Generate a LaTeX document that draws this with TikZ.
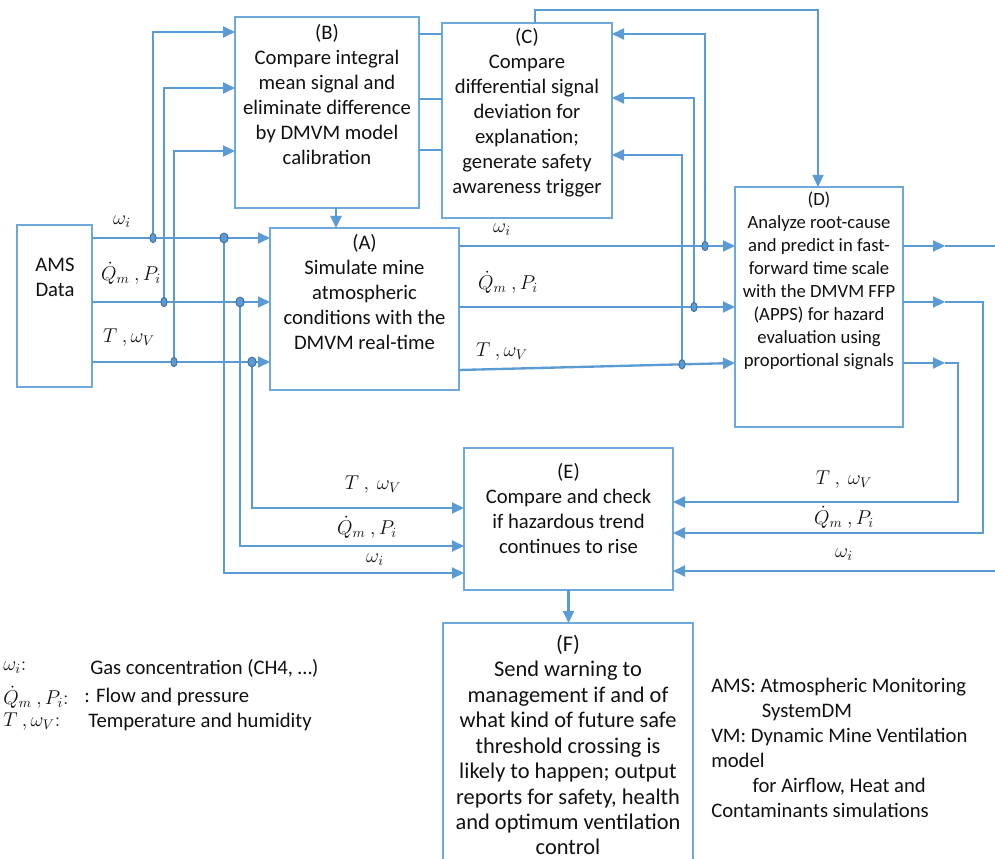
\RequirePackage{fix-cm}
\documentclass[tikz,border=0pt]{standalone}
\usepackage{fontspec}
\setmainfont{Carlito}
\usetikzlibrary{arrows.meta,calc}
\definecolor{ln}{HTML}{5B9BD5}
\definecolor{bx}{HTML}{6FA8DC}
\definecolor{dotc}{HTML}{41719C}
\definecolor{txt}{HTML}{111111}
\tikzset{
  box/.style={draw=bx, line width=0.8pt, inner sep=0pt, outer sep=0pt},
  conn/.style={draw=ln, line width=1.75pt},
  arr/.style={conn, -{Triangle[length=9pt,width=8.2pt]}},
  thinconn/.style={draw=ln, line width=0.8pt},
  btext/.style={align=center, inner sep=0pt, text=txt, font=\fontsize{15.5}{18.75}\selectfont},
  dtext/.style={align=center, inner sep=0pt, text=txt, font=\fontsize{14}{17.25}\selectfont},
  ftext/.style={align=center, inner sep=0pt, text=txt, font=\fontsize{16.8}{19.1}\selectfont},
  ltext/.style={inner sep=0pt, text=txt, font=\fontsize{15.5}{18.75}\selectfont},
  lbl/.style={inner sep=0pt, text=txt, font=\fontsize{15}{18}\selectfont},
  jdot/.style={draw=dotc, fill=ln, line width=0.7pt},
}
\begin{document}
\begin{tikzpicture}[x=0.75pt,y=-0.75pt]
\useasboundingbox (0,0) rectangle (995,859);
\clip (0,0) rectangle (995,859);

% ---------- boxes ----------
\node[box, minimum width=56.25pt, minimum height=121.5pt] (AMS) at (54.5,306) {};
\node[btext] (AMSt) at (55,277.5) {AMS\\Data};

\node[box, minimum width=138pt, minimum height=143.25pt] (B) at (327,112.5) {};
\node[btext] (Bt) at (327,95) {(B)\\Compare integral\\mean signal and\\eliminate difference\\by DMVM model\\calibration};

\node[box, minimum width=127.5pt, minimum height=146.25pt] (C) at (527,120.5) {};
\node[btext] (Ct) at (527,113) {(C)\\Compare\\differential signal\\deviation for\\explanation;\\generate safety\\awareness trigger};

\node[box, minimum width=141.75pt, minimum height=121.5pt] (A) at (364.5,309) {};
\node[btext] (At) at (364.5,292.5) {(A)\\Simulate mine\\atmospheric\\conditions with the\\DMVM real-time};

\node[box, minimum width=126pt, minimum height=180pt] (D) at (819,307) {};
\node[dtext] (Dt) at (819,281) {(D)\\Analyze root-cause\\and predict in fast-\\forward time scale\\with the DMVM FFP\\(APPS) for hazard\\evaluation using\\proportional signals};

\node[box, minimum width=156.75pt, minimum height=106.5pt] (E) at (568.5,519) {};
\node[btext] (Et) at (568.5,509) {(E)\\Compare and check\\if hazardous trend\\continues to rise};

\node[box, minimum width=187.5pt, minimum height=185.25pt] (F) at (568,746.5) {};
\node[ftext] (Ft) at (568,745) {(F)\\Send warning to\\management if and of\\what kind of future safe\\threshold crossing is\\likely to happen; output\\reports for safety, health\\and optimum ventilation\\control};

% ---------- levels and junctions ----------
\coordinate (w1) at (0,238); \coordinate (q1) at (0,302); \coordinate (t1) at (0,362);
\coordinate (jw1) at (153,238); \coordinate (jq1) at (164,302); \coordinate (jt1) at (174,362);
\coordinate (kw1) at (224,238); \coordinate (kq1) at (240,302); \coordinate (kt1) at (252,362);
\coordinate (bw) at (0,32); \coordinate (bq) at (0,88); \coordinate (bt) at (0,151);
\coordinate (ew) at (0,573); \coordinate (eq) at (0,546); \coordinate (et) at (0,508);
\coordinate (w2) at (0,246); \coordinate (q2) at (0,307); \coordinate (t2a) at (0,370); \coordinate (t2d) at (0,363);
\coordinate (jw2) at (705,246); \coordinate (jq2) at (694,307); \coordinate (jt2) at (682,364.3);
\coordinate (cw) at (0,34); \coordinate (cq) at (0,98); \coordinate (ct) at (0,155);
\coordinate (bc1) at (0,34); \coordinate (bc2) at (0,99); \coordinate (bc3) at (0,150);
\coordinate (cx) at (535,0); \coordinate (topR) at (818,10);
\coordinate (xba) at (336,0);
\coordinate (dw) at (0,246); \coordinate (dq) at (0,302); \coordinate (dt) at (0,363);
\coordinate (mx) at (945,0);
\coordinate (outw) at (995,246);
\coordinate (rq) at (983,302); \coordinate (rt) at (958,363);
\coordinate (eq2) at (0,533); \coordinate (et2) at (0,502);
\coordinate (inw) at (995,571);

% ---------- AMS -> A ----------
\draw[arr] (AMS.east |- w1) -- (A.west |- w1);
\draw[arr] (AMS.east |- q1) -- (A.west |- q1);
\draw[arr] (AMS.east |- t1) -- (A.west |- t1);

% ---------- to B ----------
\draw[arr] (jw1) |- (B.west |- bw);
\draw[arr] (jq1) |- (B.west |- bq);
\draw[arr] (jt1) |- (B.west |- bt);

% ---------- to E (left) ----------
\draw[arr] (kw1) |- (E.west |- ew);
\draw[arr] (kq1) |- (E.west |- eq);
\draw[arr] (kt1) |- (E.west |- et);

% ---------- B -> C thin ----------
\draw[thinconn] (B.east |- bc1) -- (C.west |- bc1);
\draw[thinconn] (B.east |- bc2) -- (C.west |- bc2);
\draw[thinconn] (B.east |- bc3) -- (C.west |- bc3);

% ---------- B -> A ----------
\draw[arr] (B.south -| xba) -- (A.north -| xba);

% ---------- A -> D ----------
\draw[arr] (A.east |- w2) -- (D.west |- w2);
\draw[arr] (A.east |- q2) -- (D.west |- q2);
\draw[arr] (A.east |- t2a) -- (D.west |- t2d);

% ---------- to C ----------
\draw[arr] (jw2) |- (C.east |- cw);
\draw[arr] (jq2) |- (C.east |- cq);
\draw[arr] (jt2) |- (C.east |- ct);

% ---------- C -> D ----------
\draw[draw=ln, line width=1.1pt, -{Triangle[length=9pt,width=8.2pt]}] (C.north -| cx) |- (topR) -- (D.north -| topR);

% ---------- D outputs ----------
\draw[arr] (D.east |- dw) -- (mx |- dw);
\draw[conn] (mx |- dw) -- (outw);
\draw[arr] (D.east |- dq) -- (mx |- dq);
\draw[arr] (mx |- dq) -- (rq) |- (E.east |- eq2);
\draw[arr] (D.east |- dt) -- (mx |- dt);
\draw[arr] (mx |- dt) -- (rt) |- (E.east |- et2);
\draw[arr] (inw) -- (E.east |- inw);

% ---------- E -> F ----------
\draw[arr] (E.south) -- (E.south |- F.north);

% ---------- junction dots ----------
\foreach \p in {jw1,jq1,jt1,jw2,jq2,jt2}
  \filldraw[jdot] (\p) ellipse [x radius=2.3pt, y radius=3.5pt];
\foreach \p in {kw1,kq1,kt1}
  \filldraw[jdot] (\p) ellipse [x radius=3.1pt, y radius=3.7pt];

% ---------- signal labels ----------
\node[lbl] (l1) at (122,222) {$\omega_i$};
\node[lbl] (l2) at (131,273) {$\dot{Q}_m\ ,P_i$};
\node[lbl] (l3) at (129,338) {$T\ ,\omega_V$};
\node[lbl] (l4) at (502,230) {$\omega_i$};
\node[lbl] (l5) at (508,282) {$\dot{Q}_m\ ,P_i$};
\node[lbl] (l6) at (502,352) {$T\ ,\omega_V$};
\node[lbl] (l7) at (373,485) {$T\ ,\ \omega_V$};
\node[lbl] (l8) at (367,527) {$\dot{Q}_m\ ,P_i$};
\node[lbl] (l9) at (375,560) {$\omega_i$};
\node[lbl] (l10) at (844,480) {$T\ ,\ \omega_V$};
\node[lbl] (l11) at (844,517) {$\dot{Q}_m\ ,P_i$};
\node[lbl] (l12) at (844,555) {$\omega_i$};

% ---------- legend left ----------
\node[lbl, anchor=west] (g1m) at (3,668) {$\omega_i{:}$};
\node[ltext, anchor=west] (g1t) at (90,668) {Gas concentration (CH4, …)};
\node[lbl, anchor=west] (g2m) at (3,697) {$\dot{Q}_m\ ,P_i{:}$};
\node[ltext, anchor=west] (g2t) at (84,697) {: Flow and pressure};
\node[lbl, anchor=west] (g3m) at (3,722) {$T\ ,\omega_V{:}$};
\node[ltext, anchor=west] (g3t) at (88,722) {Temperature and humidity};

% ---------- legend right ----------
\node[ltext, anchor=west, align=left] (leg) at (711,747.5) {AMS: Atmospheric Monitoring\\\hspace*{38pt}SystemDM\\VM: Dynamic Mine Ventilation\\model\\\hspace*{31pt}for Airflow, Heat and\\Contaminants simulations};
\end{tikzpicture}
\end{document}
